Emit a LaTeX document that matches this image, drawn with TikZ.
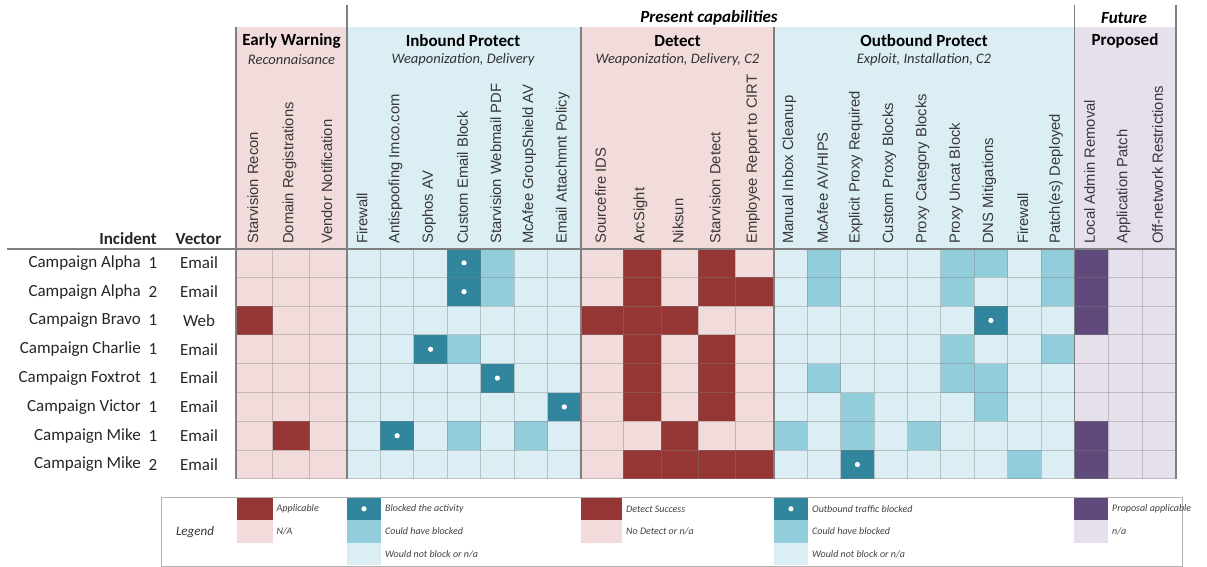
\documentclass[tikz,border=0pt]{standalone}
\usepackage{fontspec}
\setmainfont{Carlito}
\newfontfamily\arialf{Liberation Sans}
\usetikzlibrary{calc}
\definecolor{dred}{HTML}{963634}
\definecolor{pinkc}{HTML}{F2DCDB}
\definecolor{tealc}{HTML}{31859C}
\definecolor{medb}{HTML}{92CDDC}
\definecolor{lightb}{HTML}{DAEEF3}
\definecolor{purp}{HTML}{604A7B}
\definecolor{lpurp}{HTML}{E5E0EC}
\definecolor{secgray}{HTML}{7F7F7F}
\definecolor{txt}{HTML}{262626}
\newcommand\mycell[3]{\pgfmathtruncatemacro\cpv{#1-1}\pgfmathtruncatemacro\rpv{#2-1}\fill[#3] (c\cpv |- r\rpv) rectangle (c#1 |- r#2);}
\newcommand\myblock[2]{\pgfmathtruncatemacro\cpv{#1-1}\pgfmathtruncatemacro\rpv{#2-1}\fill[tealc] (c\cpv |- r\rpv) rectangle (c#1 |- r#2);\fill[white] ($(c\cpv |- r\rpv)!0.5!(c#1 |- r#2)$) circle (2.6);}
\tikzset{
  gridline/.style={draw=gray,opacity=0.4,line width=0.9pt},
  secline/.style={draw=secgray,line width=1.4pt},
  collabel/.style={rotate=90,anchor=west,inner sep=0pt,font=\arialf\fontsize{14.8}{16}\selectfont,text=black!78},
  rowname/.style={anchor=east,inner sep=0pt,font=\fontsize{17}{20}\selectfont,text=txt},
  rownum/.style={inner sep=0pt,font=\fontsize{17}{20}\selectfont,text=txt},
  cattitle/.style={inner sep=0pt,font=\bfseries\fontsize{17}{20}\selectfont,text=black},
  catsub/.style={inner sep=0pt,font=\itshape\fontsize{14.5}{17}\selectfont,text=black!80},
  toptitle/.style={inner sep=0pt,font=\bfseries\itshape\fontsize{17}{19}\selectfont,text=black},
  legtext/.style={anchor=west,inner sep=0pt,font=\itshape\fontsize{10}{12}\selectfont,text=black!75},
}
\begin{document}
\begin{tikzpicture}[x=1pt,y=-1pt]
\useasboundingbox (0,0) rectangle (1207,567);
\foreach \i/\x in {0/236,1/272.5,2/309.5,3/347,4/380.4,5/413.9,6/447.3,7/480.7,8/514.1,9/547.6,10/581,11/623,12/661,13/698,14/735,15/774,16/807.4,17/840.7,18/874.1,19/907.5,20/940.8,21/974.2,22/1007.6,23/1041,24/1074.3,25/1108,26/1142,27/1176}{\coordinate (c\i) at (\x,0);}
\foreach \j in {0,...,8}{\coordinate (r\j) at (0,248.5+28.8*\j);}
\coordinate (htop) at (0,27);
\coordinate (ltop) at (0,5);
\coordinate (hl) at (7,248.5);
% header bands
\fill[pinkc] (c0 |- htop) rectangle (c3 |- r8);
\fill[lightb] (c3 |- htop) rectangle (c10 |- r8);
\fill[pinkc] (c10 |- htop) rectangle (c15 |- r8);
\fill[lightb] (c15 |- htop) rectangle (c24 |- r8);
\fill[lpurp] (c24 |- htop) rectangle (c27 |- r8);
% data cells
\foreach \c/\r in {1/3,2/7,12/1,14/1,12/2,14/2,15/2,11/3,12/3,13/3,12/4,14/4,12/5,14/5,12/6,14/6,13/7,12/8,13/8,14/8,15/8}{\mycell{\c}{\r}{dred}}
\foreach \c/\r in {8/1,8/2,7/4,7/7,9/7,17/1,21/1,22/1,24/1,17/2,21/2,24/2,21/4,24/4,17/5,21/5,22/5,18/6,22/6,16/7,18/7,20/7,23/8}{\mycell{\c}{\r}{medb}}
\foreach \c/\r in {25/1,25/2,25/3,25/7,25/8}{\mycell{\c}{\r}{purp}}
\foreach \c/\r in {7/1,7/2,6/4,8/5,10/6,5/7,22/3,18/8}{\myblock{\c}{\r}}
% grid
\foreach \i in {1,...,26}{\draw[gridline] (c\i |- r0) -- (c\i |- r8);}
\foreach \j in {1,...,8}{\draw[gridline] (c0 |- r\j) -- (c27 |- r\j);}
% section lines
\draw[secline] (c0 |- htop) -- (c0 |- r8);
\draw[secline] (c3 |- ltop) -- (c3 |- r8);
\draw[secline] (c10 |- htop) -- (c10 |- r8);
\draw[secline] (c15 |- htop) -- (c15 |- r8);
\draw[secline] (c24 |- ltop) -- (c24 |- r8);
\draw[secline] (c27 |- ltop) -- (c27 |- r8);
\draw[draw=secgray,line width=2pt] (hl) -- (c27 |- r0);
% titles
\node[toptitle] (tpres) at (709,18) {Present capabilities};
\node[toptitle] (tfut) at (1124,18) {Future};
\node[cattitle] (tew) at (291.5,41) {Early Warning};
\node[catsub] (sew) at (291.5,60) {Reconnaisance};
\node[cattitle] (tip) at (463,41) {Inbound Protect};
\node[catsub] (sip) at (463,60) {Weaponization, Delivery};
\node[cattitle] (tdt) at (677.5,41) {Detect};
\node[catsub] (sdt) at (677.5,60) {Weaponization, Delivery, C2};
\node[cattitle] (top) at (924,41) {Outbound Protect};
\node[catsub] (sop) at (924,60) {Exploit, Installation, C2};
\node[cattitle] (tfp) at (1125,41) {Proposed};
% column labels
\foreach \i/\lab in {1/{Starvision Recon},2/{Domain Registrations},3/{Vendor Notification},4/{Firewall},5/{Antispoofing Imco.com},6/{Sophos AV},7/{Custom Email Block},8/{Starvision Webmail PDF},9/{McAfee GroupShield AV},10/{Email Attachmnt Policy},11/{Sourcefire IDS},12/{ArcSight},13/{Niksun},14/{Starvision Detect},15/{Employee Report to CIRT},16/{Manual Inbox Cleanup},17/{McAfee AV/HIPS},18/{Explicit Proxy Required},19/{Custom Proxy Blocks},20/{Proxy Category Blocks},21/{Proxy Uncat Block},22/{DNS Mitigations},23/{Firewall},24/{Patch(es) Deployed},25/{Local Admin Removal},26/{Application Patch},27/{Off-network Restrictions}}{
  \pgfmathtruncatemacro\cpv{\i-1}
  \node[collabel] (lab\i) at ($(c\cpv)!0.5!(c\i)+(-1.5,244)$) {\lab};
}
% row headers
\node[anchor=base east,inner sep=0pt,font=\bfseries\fontsize{17}{20}\selectfont,text=txt] (hinc) at (157,244) {Incident};
\node[anchor=base,inner sep=0pt,font=\bfseries\fontsize{17}{20}\selectfont,text=txt] (hvec) at (198.5,244) {Vector};
\foreach \j/\nm/\nb/\vc in {1/Campaign Alpha/1/Email,2/Campaign Alpha/2/Email,3/Campaign Bravo/1/Web,4/Campaign Charlie/1/Email,5/Campaign Foxtrot/1/Email,6/Campaign Victor/1/Email,7/Campaign Mike/1/Email,8/Campaign Mike/2/Email}{
  \node[rowname] (rn\j) at (141,248.5+28.8*\j-14.4) {\nm};
  \node[rownum] (rb\j) at (153,248.5+28.8*\j-14.4) {\nb};
  \node[rownum] (rv\j) at (199,248.5+28.8*\j-14.4) {\vc};
}
% legend
\coordinate (lg1) at (161,497);
\coordinate (lg2) at (1182,566);
\draw[draw=black!30,line width=0.6pt] (lg1) rectangle (lg2);
\node[inner sep=0pt,font=\itshape\fontsize{13}{15}\selectfont,text=black!80] (leg) at (195,532) {Legend};
\foreach \j in {0,...,3}{\coordinate (q\j) at (0,497.5+22.6*\j);}
\coordinate (e1) at (236.5,0); \coordinate (e2) at (272.5,0);
\coordinate (i1) at (347,0); \coordinate (i2) at (381,0);
\coordinate (d1) at (581,0); \coordinate (d2) at (622,0);
\coordinate (o1) at (774,0); \coordinate (o2) at (808,0);
\coordinate (f1) at (1074,0); \coordinate (f2) at (1108,0);
\fill[dred] (e1 |- q0) rectangle (e2 |- q1);
\fill[pinkc] (e1 |- q1) rectangle (e2 |- q2);
\fill[tealc] (i1 |- q0) rectangle (i2 |- q1);
\fill[white] ($(i1 |- q0)!0.5!(i2 |- q1)$) circle (2.6);
\fill[medb] (i1 |- q1) rectangle (i2 |- q2);
\fill[lightb] (i1 |- q2) rectangle (i2 |- q3);
\fill[dred] (d1 |- q0) rectangle (d2 |- q1);
\fill[pinkc] (d1 |- q1) rectangle (d2 |- q2);
\fill[tealc] (o1 |- q0) rectangle (o2 |- q1);
\fill[white] ($(o1 |- q0)!0.5!(o2 |- q1)$) circle (2.6);
\fill[medb] (o1 |- q1) rectangle (o2 |- q2);
\fill[lightb] (o1 |- q2) rectangle (o2 |- q3);
\fill[purp] (f1 |- q0) rectangle (f2 |- q1);
\fill[lpurp] (f1 |- q1) rectangle (f2 |- q2);
\node[legtext] (le1) at ($(e2 |- q0)!0.5!(e2 |- q1)+(4,0)$) {Applicable};
\node[legtext] (le2) at ($(e2 |- q1)!0.5!(e2 |- q2)+(4,0)$) {N/A};
\node[legtext] (li1) at ($(i2 |- q0)!0.5!(i2 |- q1)+(4,0)$) {Blocked the activity};
\node[legtext] (li2) at ($(i2 |- q1)!0.5!(i2 |- q2)+(4,0)$) {Could have blocked};
\node[legtext] (li3) at ($(i2 |- q2)!0.5!(i2 |- q3)+(4,0)$) {Would not block or n/a};
\node[legtext] (ld1) at ($(d2 |- q0)!0.5!(d2 |- q1)+(4,0)$) {Detect Success};
\node[legtext] (ld2) at ($(d2 |- q1)!0.5!(d2 |- q2)+(4,0)$) {No Detect or n/a};
\node[legtext] (lo1) at ($(o2 |- q0)!0.5!(o2 |- q1)+(4,0)$) {Outbound traffic blocked};
\node[legtext] (lo2) at ($(o2 |- q1)!0.5!(o2 |- q2)+(4,0)$) {Could have blocked};
\node[legtext] (lo3) at ($(o2 |- q2)!0.5!(o2 |- q3)+(4,0)$) {Would not block or n/a};
\node[legtext] (lf1) at ($(f2 |- q0)!0.5!(f2 |- q1)+(4,0)$) {Proposal applicable};
\node[legtext] (lf2) at ($(f2 |- q1)!0.5!(f2 |- q2)+(4,0)$) {n/a};
\end{tikzpicture}
\end{document}
